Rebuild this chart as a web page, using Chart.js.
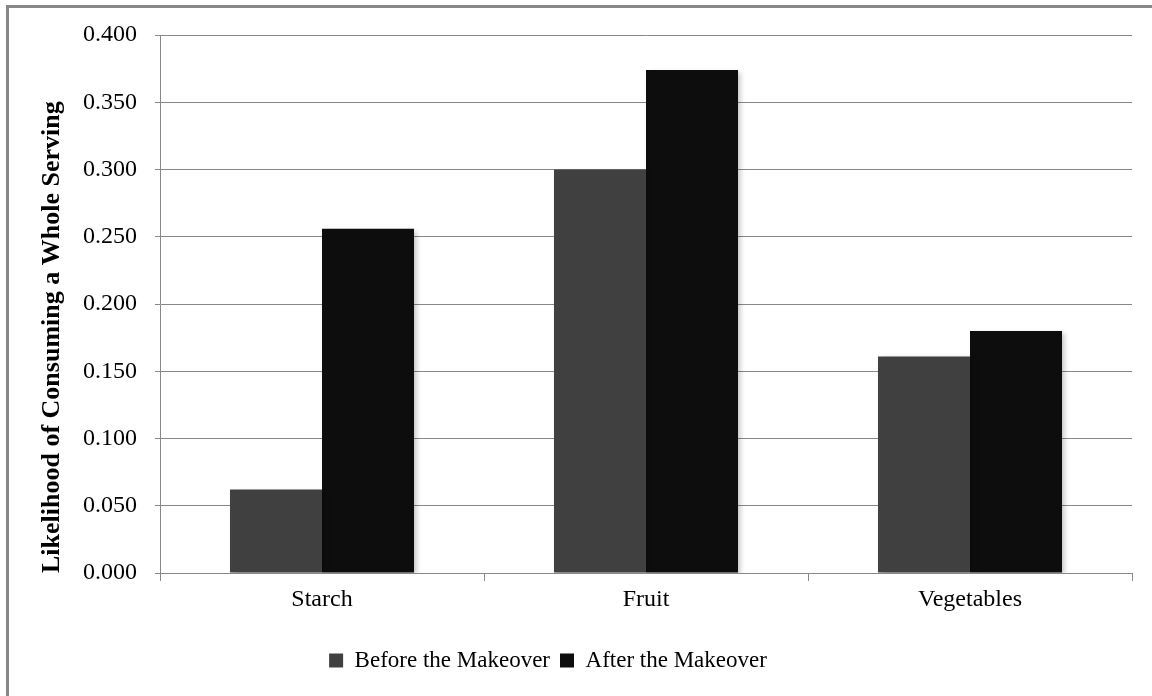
<!DOCTYPE html>
<html>
<head>
<meta charset="utf-8">
<script src="https://cdn.jsdelivr.net/npm/chart.js@4.4.1/dist/chart.umd.min.js"></script>
<style>
  body { margin: 0; background: #fff; }
  #frame {
    position: absolute; left: 6px; top: 5px;
    width: 1200px; height: 800px;
    border: 3px solid #888;
  }
  #wrap { position: absolute; left: 0; top: 0; width: 1152px; height: 696px; }
</style>
</head>
<body>
<div id="frame"></div>
<div id="wrap"><canvas id="servingChart" width="1152" height="696"></canvas></div>
<script>
const categories = ["Starch", "Fruit", "Vegetables"];
const beforeValues = [0.062, 0.300, 0.161];
const afterValues = [0.256, 0.374, 0.180];
const seriesNames = ["Before the Makeover", "After the Makeover"];

const serif = "'Liberation Serif', 'Times New Roman', serif";

// soft drop shadow behind the bars
const barShadow = {
  id: "barShadow",
  beforeDatasetsDraw(chart) {
    const ctx = chart.ctx;
    ctx.save();
    ctx.shadowColor = "rgba(0,0,0,0.22)";
    ctx.shadowBlur = 5;
    ctx.shadowOffsetX = 3;
    ctx.shadowOffsetY = 2;
  },
  afterDatasetsDraw(chart) {
    chart.ctx.restore();
  }
};

// nudge the legend a little left of the canvas centre
const legendShift = {
  id: "legendShift",
  afterLayout(chart) {
    chart.legend.left -= 18;
    chart.legend.right -= 18;
  }
};

new Chart(document.getElementById("servingChart"), {
  type: "bar",
  data: {
    labels: categories,
    datasets: [
      { label: seriesNames[0], data: beforeValues, backgroundColor: "#404040" },
      { label: seriesNames[1], data: afterValues, backgroundColor: "#0d0d0d" }
    ]
  },
  options: {
    responsive: false,
    animation: false,
    categoryPercentage: 0.568,
    barPercentage: 1,
    layout: { padding: { top: 35, right: 20, bottom: 14, left: 0 } },
    plugins: {
      tooltip: { enabled: false },
      legend: {
        position: "bottom",
        labels: {
          color: "#000",
          font: { family: serif, size: 23 },
          boxWidth: 14,
          boxHeight: 14,
          padding: 10
        }
      }
    },
    scales: {
      x: {
        afterFit(scale) { scale.height = 66; },
        grid: { drawOnChartArea: false, color: "#888", tickLength: 8, offset: true },
        border: { color: "#888", width: 1 },
        ticks: { color: "#000", font: { family: serif, size: 24 }, padding: 4 }
      },
      y: {
        min: 0,
        max: 0.4,
        afterFit(scale) { scale.width = 160; },
        ticks: {
          stepSize: 0.05,
          color: "#000",
          font: { family: serif, size: 24 },
          padding: 18,
          callback: v => v.toFixed(3)
        },
        grid: { color: "#888", lineWidth: 1, tickLength: 5 },
        border: { color: "#888", width: 1 },
        title: {
          display: true,
          align: "start",
          text: "Likelihood of Consuming a Whole Serving",
          color: "#000",
          font: { family: serif, size: 26, weight: "bold" },
          padding: { top: 37, bottom: 0 }
        }
      }
    }
  },
  plugins: [barShadow, legendShift]
});
</script>
</body>
</html>
